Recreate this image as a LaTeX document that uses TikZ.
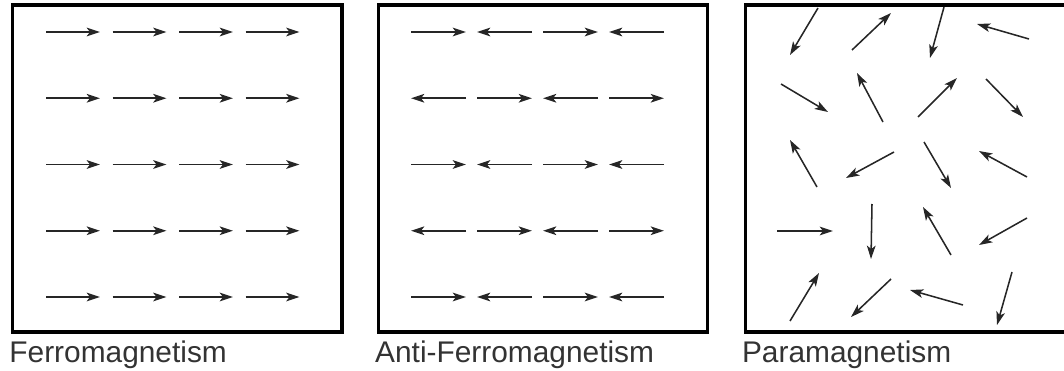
\documentclass[tikz,border=0pt]{standalone}
\usepackage{fontspec}
\setmainfont{Liberation Sans}
\usetikzlibrary{arrows.meta}

\begin{document}
\begin{tikzpicture}[x=0.75pt, y=-0.75pt,
    frame/.style={draw, line width=2.3pt, minimum width=247pt, minimum height=245.25pt, inner sep=0pt},
    spin/.style={draw=black!85, line width=1.15pt, -{Stealth[length=10pt, width=6.5pt, inset=2.5pt]}},
    caption/.style={anchor=base west, inner sep=0pt, text=black!80, font=\fontsize{22.4}{25}\selectfont}
  ]
    \useasboundingbox (0,0) rectangle (1064,371);
    \clip (0,0) rectangle (1064,371);

    % the three samples
    \node[frame] (ferro) at (177.35,168.5) {};
    \node[frame] (anti) at (543.15,168.5) {};
    \node[frame] (para) at (910,168.5) {};

    \node[caption] (ferrolabel) at ([xshift=-1.5pt, yshift=-21.5pt]ferro.south west) {Ferromagnetism};
    \node[caption] (antilabel) at ([xshift=-1.5pt, yshift=-21.5pt]anti.south west) {Anti-Ferromagnetism};
    \node[caption] (paralabel) at ([xshift=-1.5pt, yshift=-21.5pt]para.south west) {Paramagnetism};

    % ferromagnet: all spins aligned
    \foreach \row in {0,...,4}
      \foreach \col in {0,...,3}
        \draw[spin] (46+66.5*\col, 32+66.25*\row) -- ++(54,0);

    % anti-ferromagnet: alternating spins
    \foreach \row in {0,...,4}
      \foreach \col in {0,...,3} {
        \pgfmathtruncatemacro\flip{mod(\row+\col,2)}
        \ifnum\flip=0
          \draw[spin] (411+66*\col, 32+66.25*\row) -- ++(55,0);
        \else
          \draw[spin] (466+66*\col, 32+66.25*\row) -- ++(-55,0);
        \fi
      }

    % paramagnet: random spins (tail / head)
    \foreach \tx/\ty/\hx/\hy in {
        818/8/790/55, 852/50/891/13, 944/7/930/58, 1029/39/977/24,
        781/84/828/112, 883/122/857/73, 918/117/957/78, 986/79/1023/117,
        817/187/790/140, 894/152/846/178, 924/142/951/188, 1027/177/979/151,
        777/231/833/231, 872/204/871/259, 951/255/923/207, 1027/218/979/245,
        790/321/819/273, 891/279/851/317, 963/305/910/290, 1012/272/997/325}
      \draw[spin] (\tx,\ty) -- (\hx,\hy);
\end{tikzpicture}
\end{document}
